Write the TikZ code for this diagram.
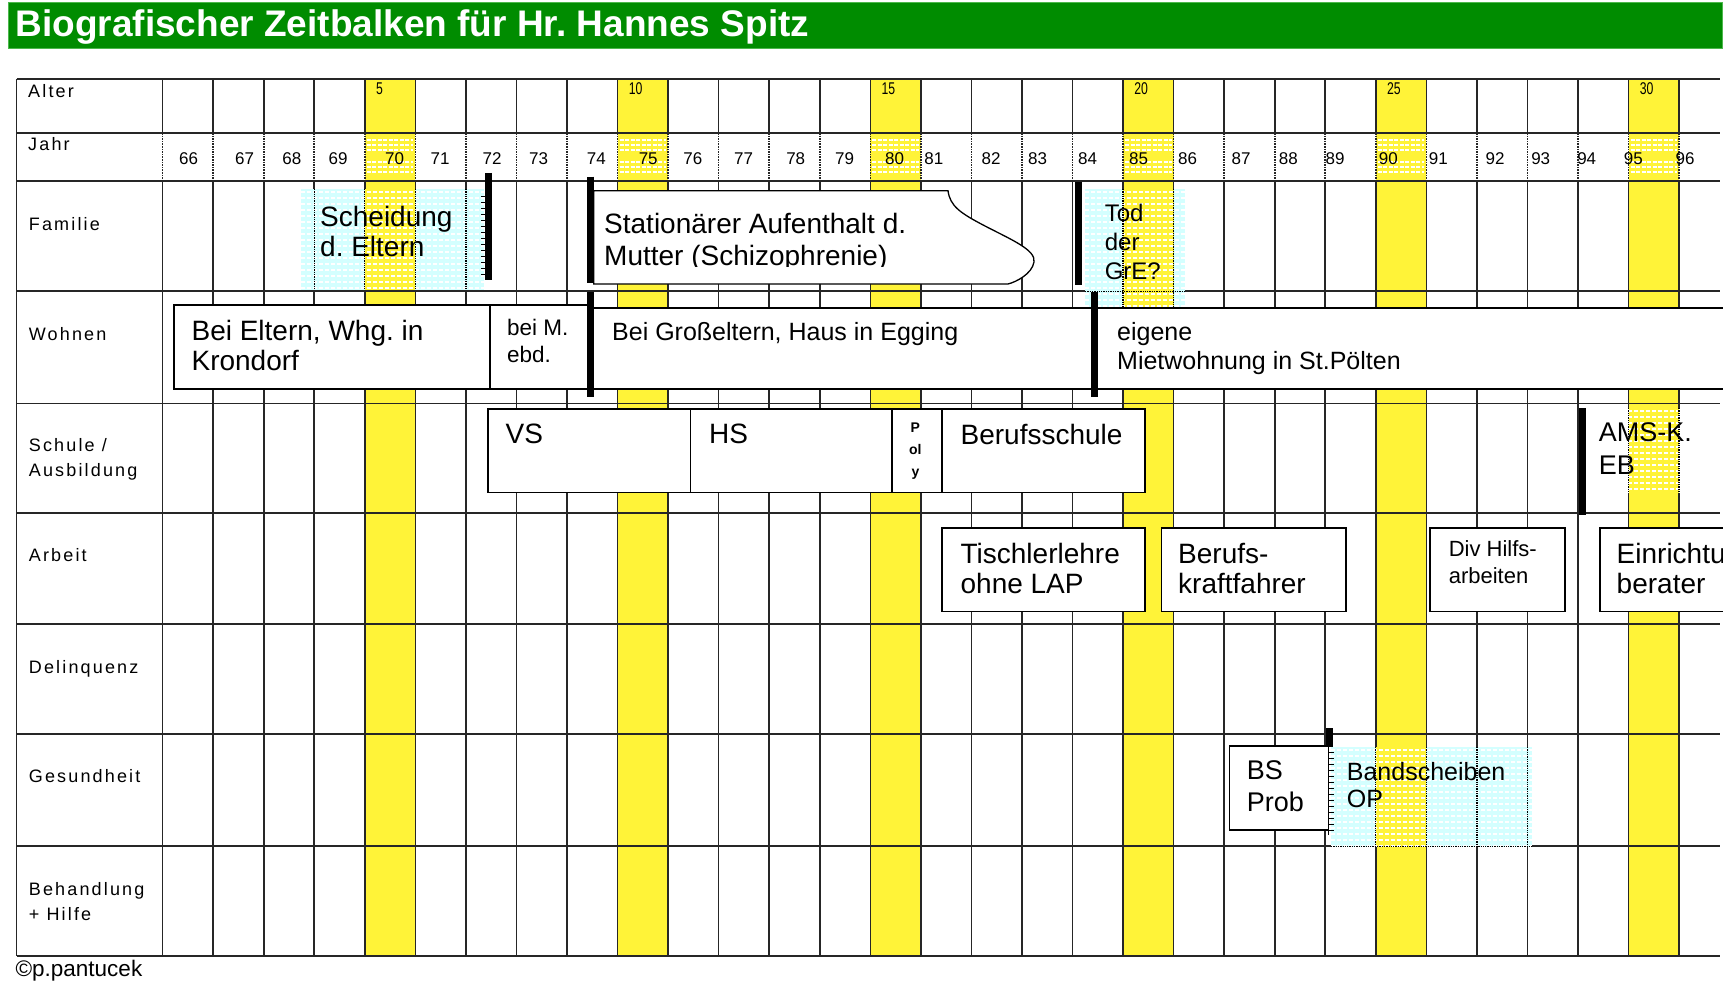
\documentclass[tikz,border=0pt]{standalone}
\usepackage{fontspec}
\setmainfont{Liberation Sans}
\newfontfamily\rowfont[LetterSpace=12]{Liberation Sans}
\newfontfamily\narrowfont[FakeStretch=0.72]{Liberation Sans}
\frenchspacing
\definecolor{titlegreen}{RGB}{0,140,0}
\definecolor{markyellow}{RGB}{255,243,56}
\definecolor{palecyan}{RGB}{212,255,255}

% column start and width of one year
\def\cz{162.6}
\def\cw{50.55}

\tikzset{
  grid line/.style={line width=1.6pt, black!85},
  entry/.style={draw=black, line width=1.4pt, fill=white},
  txt/.style={anchor=north west, inner sep=0pt, align=left, font=\fontsize{28}{30}\selectfont},
  rowlabel/.style={anchor=north west, inner sep=0pt, align=left, font=\rowfont\fontsize{18}{25}\selectfont},
  year/.style={anchor=base, inner sep=0pt, font=\fontsize{17}{18}\selectfont},
  age/.style={anchor=base west, inner sep=0pt, font=\narrowfont\fontsize{17}{18}\selectfont},
  bar/.style={line width=7pt},
}

% light text field laid over the grid
\newcommand\dotpatch[5][palecyan]{%
  \begin{scope}
    \clip (#2,#3) rectangle (#4,#5);
    \fill[#1] (#2,#3) rectangle (#4,#5);
    \foreach \k in {4,9,...,29}
      \fill[markyellow] ({\cz+\k*\cw},#3) rectangle ({\cz+(\k+1)*\cw},#5);
    \foreach \dy in {3,9,...,153}
      \draw[white, line width=1.3pt, dash pattern=on 4pt off 2pt] (#2,{#3+\dy}) -- (#4,{#3+\dy});
    \foreach \k in {0,...,30}
      \draw[densely dotted, line width=1.3pt] ({\cz+\k*\cw},#3) -- ({\cz+\k*\cw},#5);
    \foreach \yy in {291.2,403.3,513.2,624.2,734.1,846.2}
      \draw[densely dotted, line width=1.3pt] (#2,\yy) -- (#4,\yy);
  \end{scope}}

\begin{document}
\begin{tikzpicture}[x=1pt,y=-1pt]
\useasboundingbox (0,0) rectangle (1723,984);
\clip (0,0) rectangle (1723,984);

% title bar
\filldraw[fill=titlegreen, draw=green!60!black!70, line width=1pt] (8,3) rectangle (1722,49);
\node[anchor=base west, inner sep=0pt, text=white, font=\bfseries\fontsize{37}{40}\selectfont] (title) at (15.4,36.5) {Biografischer Zeitbalken für Hr. Hannes Spitz};

% every fifth year
\foreach \k in {4,9,...,29}
  \fill[markyellow] ({\cz+\k*\cw},79.1) rectangle ({\cz+(\k+1)*\cw},956);
\foreach \k in {4,9,...,29}
  \foreach \yy in {140,145,150,162,167,172}
    \draw[white, line width=1.2pt, dash pattern=on 4pt off 1.5pt] ({\cz+\k*\cw+2},\yy) -- ({\cz+(\k+1)*\cw-2},\yy);

% grid
\foreach \yy in {79.1,133,181.3,291.2,403.3,513.2,624.2,734.1,846.2,956}
  \draw[grid line] (16.5,\yy) -- (1720,\yy);
\draw[grid line] (16.5,79.1) -- (16.5,956);
\foreach \k in {0,...,30} {
  \draw[grid line] ({\cz+\k*\cw},79.1) -- ({\cz+\k*\cw},133);
  \draw[grid line, densely dotted] ({\cz+\k*\cw},133) -- ({\cz+\k*\cw},181.3);
  \draw[grid line] ({\cz+\k*\cw},181.3) -- ({\cz+\k*\cw},956);
}

% row labels
\node[rowlabel] (lAlter) at (28,84.5) {Alter};
\node[rowlabel] (lJahr) at (28,136.9) {Jahr};
\node[rowlabel] (lFamilie) at (28.7,216.9) {Familie};
\node[rowlabel] (lWohnen) at (28.7,326.9) {Wohnen};
\node[rowlabel] (lSchule) at (28.7,438.6) {Schule /\\Ausbildung};
\node[rowlabel] (lArbeit) at (28.7,548.6) {Arbeit};
\node[rowlabel] (lDelinquenz) at (28.7,660.2) {Delinquenz};
\node[rowlabel] (lGesundheit) at (28.7,769.6) {Gesundheit};
\node[rowlabel] (lBehandlung) at (28.7,881.9) {Behandlung\\+ Hilfe};

% ages and years
\foreach \a [count=\n] in {5,10,...,30}
  \node[age] (a\a) at ({\cz+(5*\n-1)*\cw+11},95) {\a};
\foreach \yr/\xx in {66/188.6,67/244.6,68/291.8,69/338.2,70/394.6,71/440,72/492,73/538.6,74/596.4,75/648.2,76/692.9,77/743.6,78/795.7,79/844.6,80/894.6,81/933.9,82/991,83/1037.5,84/1087.5,85/1138.6,86/1187.5,87/1241,88/1288.3,89/1335,90/1388.3,91/1438.3,92/1495,93/1540.7,94/1586.7,95/1633.3,96/1685}
  \node[year] (y\yr) at (\xx,165) {\yr};

% Familie
\dotpatch{301}{189}{484}{290}
\foreach \t in {196,202,...,278}
  \draw[line width=0.9pt] (481,\t) -- (486,\t);
\draw[bar] (488,173) -- (488,280);
\node[txt] (scheidung) at (320,206.3) {Scheidung\\d. Eltern};

\filldraw[fill=white, draw=black, line width=1.3pt] (593.7,190.7) -- (948,190.7)
  .. controls (950,206) and (960,213) .. (985,226)
  .. controls (1012,240) and (1036,250) .. (1034,262)
  .. controls (1032,274) and (1016,282) .. (1008,284) -- (593.7,284) -- cycle;
\begin{scope}
  \clip (590,185) rectangle (1040,267);
  \node[txt, font=\fontsize{28}{32}\selectfont] (mutter) at (604,212.9) {Stationärer Aufenthalt d.\\Mutter (Schizophrenie)};
\end{scope}
\draw[bar] (590,176.7) -- (590,283.3);

\dotpatch{1085}{189}{1185}{307}
\draw[bar] (1078.5,181.7) -- (1078.5,285);
\node[txt, font=\fontsize{24}{29}\selectfont] (tod) at (1104.6,204.2) {Tod\\der\\GrE?};

% Wohnen
\draw[entry] (174,305) rectangle (490,389);
\draw[entry] (490,305) rectangle (593.5,389);
\draw[entry] (593.5,308) rectangle (1092,389);
\draw[entry] (1097,308) rectangle (1760,389);
\draw[bar] (590,291.7) -- (590,396.7);
\draw[bar] (1094.2,291.7) -- (1094.2,396.7);
\node[txt] (eltern) at (191.4,319.6) {Bei Eltern, Whg. in\\Krondorf};
\node[txt, font=\fontsize{22.5}{27.7}\selectfont] (beiM) at (507,318.6) {bei M.\\ebd.};
\node[txt, font=\fontsize{25}{29}\selectfont] (egging) at (612,321.75) {Bei Großeltern, Haus in Egging};
\node[txt, font=\fontsize{25}{29}\selectfont] (poelten) at (1117,321.75) {eigene\\Mietwohnung in St.Pölten};

% Schule / Ausbildung
\draw[entry] (488,409) rectangle (690.5,492.5);
\draw[entry] (690.5,409) rectangle (892,492.5);
\draw[entry] (892,409) rectangle (942,492.5);
\draw[entry] (942,409) rectangle (1145,492.5);
\node[txt] (vs) at (505.5,423.6) {VS};
\node[txt] (hs) at (709,423.6) {HS};
\node[anchor=north, inner sep=0pt, align=center, font=\bfseries\fontsize{14}{22}\selectfont] (poly) at (915.4,422.8) {P\\ol\\y};
\node[txt] (berufsschule) at (960.4,423.6) {Berufsschule};
\dotpatch[white]{1592}{408}{1723}{493}
\draw[bar] (1582.3,408) -- (1582.3,515);
\node[txt, font=\fontsize{27}{33.3}\selectfont] (ams) at (1598.7,422) {AMS-K.\\EB};

% Arbeit
\draw[entry] (942,528) rectangle (1145,611.5);
\draw[entry] (1161.5,528) rectangle (1346,611.5);
\draw[entry] (1430,528) rectangle (1565,611.5);
\draw[entry] (1600,528) rectangle (1760,611.5);
\node[txt] (tischler) at (960.4,542.9) {Tischlerlehre\\ohne LAP};
\node[txt] (fahrer) at (1178,542.9) {Berufs-\\kraftfahrer};
\node[txt, font=\fontsize{22}{26.6}\selectfont] (hilfs) at (1448.6,540.6) {Div Hilfs-\\arbeiten};
\node[txt] (berater) at (1616.5,542.9) {Einrichtu\\berater};

% Gesundheit
\draw[entry] (1229.3,746) rectangle (1328.3,830);
\node[txt, font=\fontsize{27}{31.7}\selectfont] (bsprob) at (1246.7,760.3) {BS\\Prob};
\dotpatch{1331}{747}{1532}{847}
\draw[bar] (1329.5,728) -- (1329.5,747);
\draw[line width=1.5pt] (1328.5,747) -- (1328.5,835);
\foreach \t in {752,758,...,830}
  \draw[line width=0.9pt] (1328.5,\t) -- (1334,\t);
\node[txt, font=\fontsize{25}{27.3}\selectfont] (bandscheibe) at (1346.7,761.75) {Bandscheiben\\OP};

% footer
\node[anchor=base west, inner sep=0pt, font=\fontsize{22.5}{24}\selectfont] (copy) at (15.4,976.5) {©p.pantucek};
\end{tikzpicture}
\end{document}
